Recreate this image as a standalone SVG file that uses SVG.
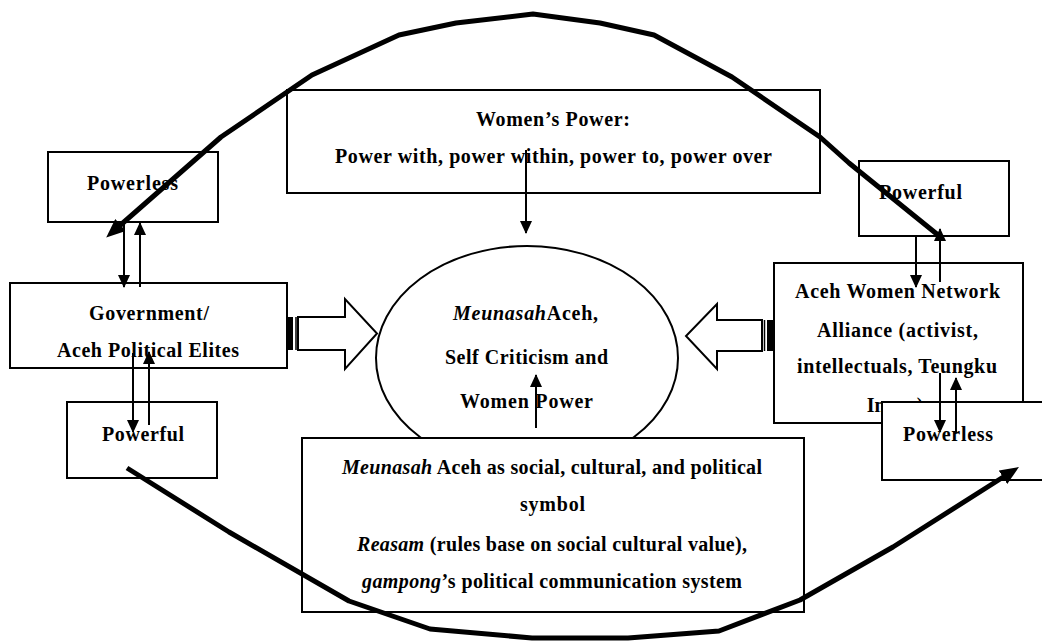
<svg xmlns="http://www.w3.org/2000/svg" width="1042" height="643" viewBox="0 0 1042 643">
  <style>
    .box { fill: #ffffff; stroke: #000000; stroke-width: 2; }
    .t { font-family: "Liberation Serif", "Times New Roman", serif; font-weight: bold; font-size: 20px; fill: #000000; text-anchor: middle; }
    .i { font-style: italic; }
    .thin { fill: none; stroke: #000000; stroke-width: 2; marker-end: url(#ah); }
    .arc { fill: none; stroke: #000000; stroke-width: 5; stroke-linejoin: round; marker-end: url(#bh); }
    .block { fill: #ffffff; stroke: #000000; stroke-width: 2; stroke-linejoin: miter; }
  </style>
  <defs>
    <marker id="ah" markerUnits="userSpaceOnUse" markerWidth="13" markerHeight="12" refX="12" refY="6" orient="auto">
      <path d="M0,0 L13,6 L0,12 Z" fill="#000000"/>
    </marker>
    <marker id="bh" markerUnits="userSpaceOnUse" markerWidth="20" markerHeight="16" refX="6" refY="8" orient="auto">
      <path d="M0,0 L19,8 L0,16 Z" fill="#000000"/>
    </marker>
  </defs>
  <rect width="1042" height="643" fill="#ffffff"/>

  <g id="center-ellipse">
    <ellipse cx="527" cy="358" rx="151" ry="112" fill="#ffffff" stroke="#000000" stroke-width="2"/>
    <text class="t" x="525.5" y="320" textLength="145" lengthAdjust="spacing"><tspan class="i">Meunasah</tspan>Aceh,</text>
    <text class="t" x="526.5" y="364" textLength="163" lengthAdjust="spacing">Self Criticism and</text>
    <text class="t" x="526.5" y="408" textLength="133" lengthAdjust="spacing">Women Power</text>
  </g>

  <g id="meunasah-symbol">
    <rect class="box" x="302" y="438" width="502" height="174"/>
    <text class="t" x="552" y="474" textLength="420" lengthAdjust="spacing"><tspan class="i">Meunasah</tspan> Aceh as social, cultural, and political</text>
    <text class="t" x="552.5" y="511" textLength="65" lengthAdjust="spacing">symbol</text>
    <text class="t" x="552" y="551" textLength="390" lengthAdjust="spacing"><tspan class="i">Reasam</tspan> (rules base on social cultural value),</text>
    <text class="t" x="552" y="588" textLength="380" lengthAdjust="spacing"><tspan class="i">gampong</tspan>’s political communication system</text>
  </g>

  <g id="womens-power">
    <rect class="box" x="287" y="90" width="533" height="103"/>
    <text class="t" x="553" y="126" textLength="154" lengthAdjust="spacing">Women’s Power:</text>
    <text class="t" x="553.5" y="163" textLength="437" lengthAdjust="spacing">Power with, power within, power to, power over</text>
  </g>

  <g id="powerless-left">
    <rect class="box" x="48" y="152" width="170" height="70"/>
    <text class="t" x="132.5" y="190" textLength="91" lengthAdjust="spacing">Powerless</text>
  </g>

  <g id="government">
    <rect class="box" x="10" y="283" width="277" height="85"/>
    <text class="t" x="149" y="320" textLength="120" lengthAdjust="spacing">Government/</text>
    <text class="t" x="148" y="357" textLength="182" lengthAdjust="spacing">Aceh Political Elites</text>
  </g>

  <g id="powerful-left">
    <rect class="box" x="67" y="402" width="150" height="76"/>
    <text class="t" x="143" y="441" textLength="82" lengthAdjust="spacing">Powerful</text>
  </g>

  <g id="powerful-right">
    <rect class="box" x="859" y="161" width="150" height="75"/>
    <text class="t" x="920.5" y="199" textLength="83" lengthAdjust="spacing">Powerful</text>
  </g>

  <g id="aceh-women-network">
    <rect class="box" x="774" y="263" width="249" height="160"/>
    <text class="t" x="897.5" y="298" textLength="205" lengthAdjust="spacing">Aceh Women Network</text>
    <text class="t" x="897.5" y="337" textLength="161" lengthAdjust="spacing">Alliance (activist,</text>
    <text class="t" x="897" y="373" textLength="200" lengthAdjust="spacing">intellectuals, Teungku</text>
    <text class="t" x="895" y="412">Inong)</text>
  </g>

  <g id="powerless-right">
    <rect class="box" x="882" y="402" width="165" height="78"/>
    <text class="t" x="948" y="441" textLength="90" lengthAdjust="spacing">Powerless</text>
  </g>

  <g id="connectors">
    <!-- striped block arrows -->
    <rect x="287" y="317" width="6" height="33" fill="#000000"/>
    <line x1="296" y1="317" x2="296" y2="350" stroke="#000000" stroke-width="1.5"/>
    <polygon class="block" points="298,317 345,317 345,299 377,333.5 345,369 345,350 298,350"/>
    <rect x="767" y="320" width="7" height="31" fill="#000000"/>
    <line x1="764.5" y1="320" x2="764.5" y2="351" stroke="#000000" stroke-width="1.5"/>
    <polygon class="block" points="762,320 717,320 717,304 686,336 717,369 717,351 762,351"/>

    <!-- thin arrows -->
    <line class="thin" x1="526" y1="150" x2="526" y2="233"/>
    <line class="thin" x1="536" y1="428" x2="536" y2="375"/>
    <line class="thin" x1="124" y1="223" x2="124" y2="287"/>
    <line class="thin" x1="140" y1="287" x2="140" y2="223"/>
    <line class="thin" x1="133" y1="353" x2="133" y2="432"/>
    <line class="thin" x1="149" y1="425" x2="149" y2="352"/>
    <line class="thin" x1="916" y1="236" x2="916" y2="287"/>
    <line class="thin" x1="940" y1="282" x2="940" y2="229"/>
    <line class="thin" x1="940" y1="373" x2="940" y2="432"/>
    <line class="thin" x1="956" y1="433" x2="956" y2="378"/>

    <!-- big arcs -->
    <polyline class="arc" points="938,235 849,163 820,137 732,77 654,35 600,23 533,14 456,23 399,35 312,75 221,137 116,229"/>
    <polyline class="arc" points="127,468 229,532 349,601 430,629 532,638 628,638 719,631 800,600 893,547 1008,474"/>
  </g>
</svg>
